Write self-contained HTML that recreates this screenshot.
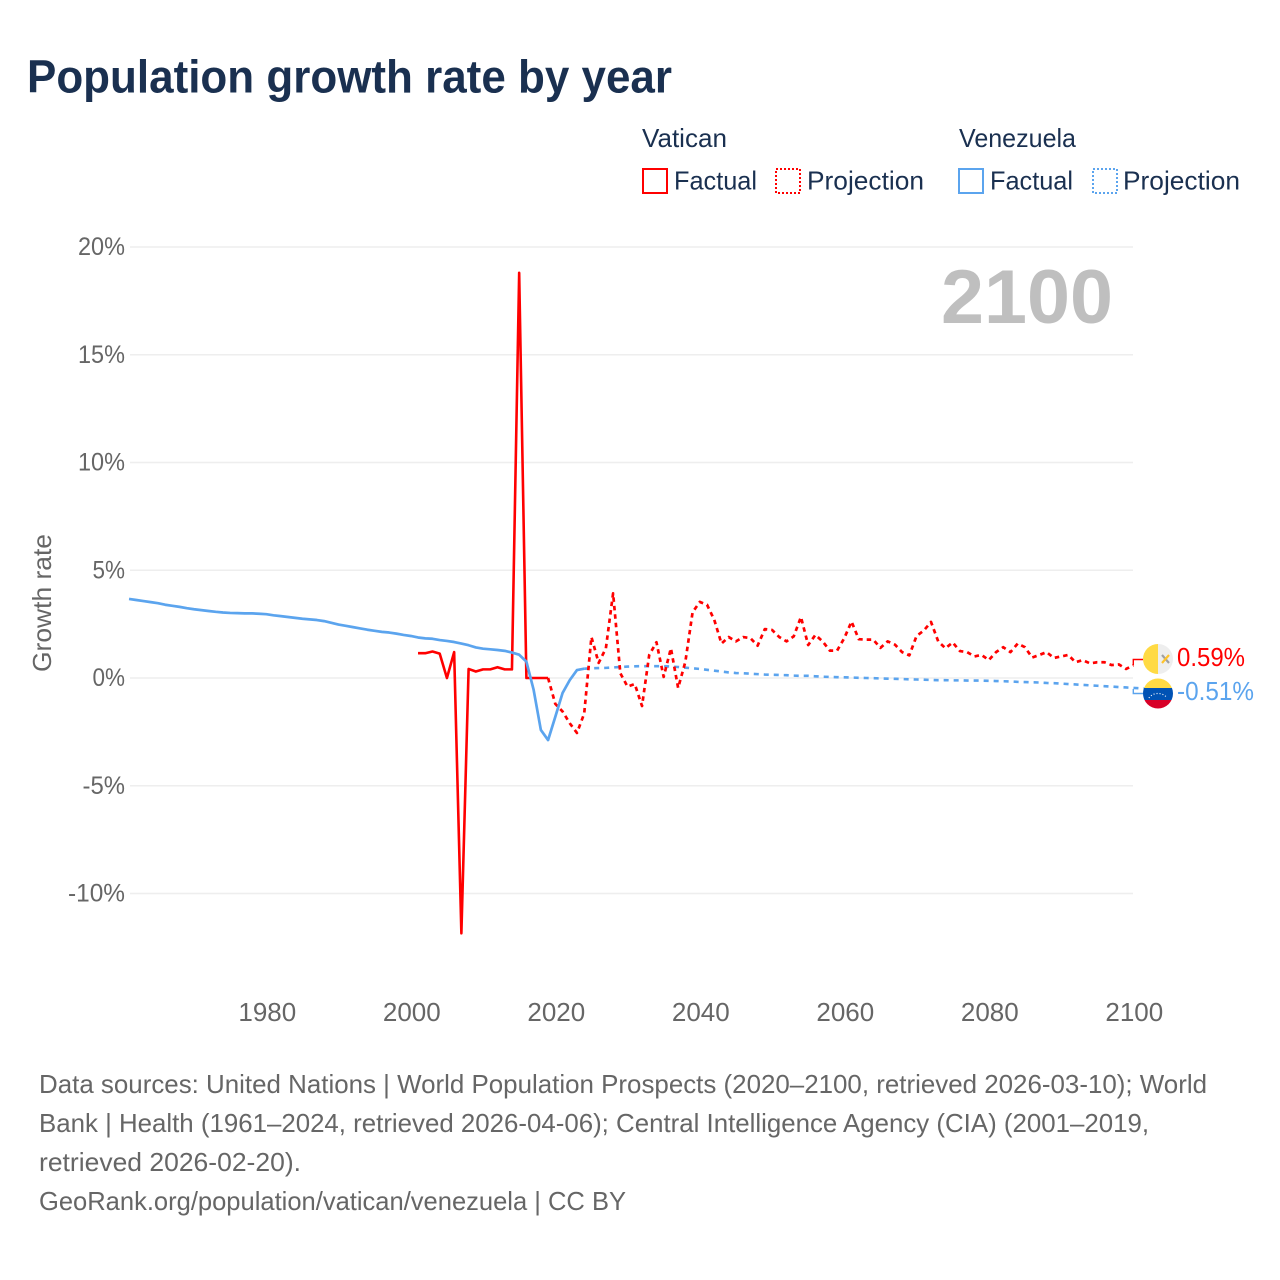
<!DOCTYPE html>
<html lang="en">
<head>
<meta charset="utf-8">
<title>Population growth rate by year</title>
<style>
html,body{margin:0;padding:0;background:#fff;width:1280px;height:1280px;overflow:hidden}
svg{display:block}
text{font-family:"Liberation Sans",sans-serif}
</style>
</head>
<body>
<svg id="chart" xmlns="http://www.w3.org/2000/svg" width="1280" height="1280" viewBox="0 0 1280 1280">
  <rect width="1280" height="1280" fill="#fff"/>
  <text x="27" y="92.5" font-size="46" font-weight="700" fill="#1a3050" textLength="645" lengthAdjust="spacingAndGlyphs">Population growth rate by year</text>

  <g font-size="26" fill="#1a3050">
    <text x="642" y="147" textLength="85" lengthAdjust="spacingAndGlyphs">Vatican</text>
    <rect x="643" y="169" width="24" height="24" fill="none" stroke="#f00" stroke-width="2"/>
    <text x="674" y="189.5" textLength="83" lengthAdjust="spacingAndGlyphs">Factual</text>
    <rect x="776" y="169" width="24" height="24" fill="none" stroke="#f00" stroke-width="2" stroke-dasharray="2 2"/>
    <text x="807" y="189.5" textLength="117" lengthAdjust="spacingAndGlyphs">Projection</text>
    <text x="959" y="147" textLength="117" lengthAdjust="spacingAndGlyphs">Venezuela</text>
    <rect x="959" y="169" width="24" height="24" fill="none" stroke="#5ba4ee" stroke-width="2"/>
    <text x="990" y="189.5" textLength="83" lengthAdjust="spacingAndGlyphs">Factual</text>
    <rect x="1093" y="169" width="24" height="24" fill="none" stroke="#5ba4ee" stroke-width="2" stroke-dasharray="2 2"/>
    <text x="1123" y="189.5" textLength="117" lengthAdjust="spacingAndGlyphs">Projection</text>
  </g>

  <g id="grid"></g>
  <g id="yticks" font-size="25" fill="#666"></g>
  <g id="xticks" font-size="26" fill="#666"></g>

  <text transform="translate(51,603) rotate(-90)" text-anchor="middle" font-size="26" fill="#666" textLength="138" lengthAdjust="spacingAndGlyphs">Growth rate</text>
  <text x="941" y="323" font-size="76" font-weight="700" fill="#bfbfbf" textLength="172" lengthAdjust="spacingAndGlyphs">2100</text>

  <g id="series"></g>

  <g>
    <clipPath id="vaClip"><circle cx="1158" cy="659" r="15"/></clipPath>
    <g clip-path="url(#vaClip)">
      <rect x="1143" y="644" width="15" height="30" fill="#ffda44"/>
      <rect x="1158" y="644" width="15" height="30" fill="#eeeeee"/>
      <path d="M1162 655l7 8" stroke="#a0a0a0" stroke-width="2.2"/>
      <path d="M1169 655l-7 8" stroke="#ffc32a" stroke-width="2.2"/>
    </g>
  </g>
  <g>
    <clipPath id="veClip"><circle cx="1158" cy="693.5" r="15"/></clipPath>
    <g clip-path="url(#veClip)">
      <rect x="1143" y="678" width="30" height="10" fill="#ffda44"/>
      <rect x="1143" y="688" width="30" height="12" fill="#0052b4"/>
      <rect x="1143" y="700" width="30" height="9" fill="#d80027"/>
      <path d="M1149 698a10 8 0 0 1 18 0" fill="none" stroke="#fff" stroke-width="1.2" stroke-dasharray="1 2"/>
    </g>
  </g>

  <text id="vaLabel" x="1177" y="666" font-size="26" fill="#f00" textLength="68" lengthAdjust="spacingAndGlyphs"></text>
  <text id="veLabel" x="1177" y="700" font-size="26" fill="#5ba4ee" textLength="77" lengthAdjust="spacingAndGlyphs"></text>

  <g font-size="26" fill="#666">
    <text x="39" y="1093" textLength="1168" lengthAdjust="spacingAndGlyphs">Data sources: United Nations | World Population Prospects (2020–2100, retrieved 2026-03-10); World</text>
    <text x="39" y="1132" textLength="1110" lengthAdjust="spacingAndGlyphs">Bank | Health (1961–2024, retrieved 2026-04-06); Central Intelligence Agency (CIA) (2001–2019,</text>
    <text x="39" y="1171" textLength="262" lengthAdjust="spacingAndGlyphs">retrieved 2026-02-20).</text>
    <text x="39" y="1210" textLength="587" lengthAdjust="spacingAndGlyphs">GeoRank.org/population/vatican/venezuela | CC BY</text>
  </g>
</svg>
<script>
const yTicks = [20, 15, 10, 5, 0, -5, -10];
const xTicks = [1980, 2000, 2020, 2040, 2060, 2080, 2100];

const vaticanFactualStart = 2001;
const vaticanFactual = [1.15,1.15,1.23,1.13,0,1.2,-11.85,0.42,0.3,0.4,0.4,0.5,0.4,0.4,18.8,0,0,0,0];

const vaticanProjectionStart = 2019;
const vaticanProjection = [0,-1.2,-1.55,-2.1,-2.55,-1.65,1.9,0.7,1.38,3.93,0.22,-0.4,-0.28,-1.3,1.07,1.66,0.05,1.38,-0.46,0.75,
  3.05,3.53,3.4,2.7,1.6,1.9,1.7,1.9,1.85,1.5,2.27,2.23,1.9,1.7,1.93,2.83,1.53,2,1.7,1.27,
  1.27,1.85,2.62,1.8,1.78,1.78,1.4,1.7,1.55,1.2,1.05,1.95,2.2,2.6,1.7,1.38,1.65,1.25,1.2,1,
  1.07,0.83,1.2,1.43,1.2,1.6,1.43,0.95,1.07,1.2,0.93,1,1.07,0.73,0.83,0.68,0.73,0.73,0.6,0.63,0.42,0.59];

const venezuelaFactualStart = 1961;
const venezuelaFactual = [3.67,3.62,3.57,3.52,3.47,3.4,3.35,3.3,3.24,3.19,3.15,3.11,3.07,3.04,3.02,3.01,3,3,2.98,2.96,
  2.91,2.87,2.83,2.79,2.75,2.72,2.69,2.64,2.56,2.48,2.42,2.36,2.3,2.24,2.19,2.14,2.11,2.06,2,1.95,
  1.88,1.84,1.82,1.76,1.72,1.67,1.6,1.52,1.42,1.36,1.33,1.3,1.26,1.18,1.08,0.76,-0.55,-2.41,-2.88,-1.8,-0.7,-0.1,0.37,0.43];

const venezuelaProjectionStart = 2024;
const venezuelaProjection = [0.43,0.45,0.46,0.47,0.49,0.51,0.53,0.54,0.55,0.55,0.55,0.55,0.53,0.51,0.48,0.45,0.42,0.38,0.34,0.3,0.26,0.23,
  0.22,0.2,0.18,0.16,0.15,0.14,0.13,0.11,0.1,0.1,0.08,0.06,0.05,0.04,0.03,0.02,0.01,0,-0.01,-0.02,-0.03,-0.04,-0.05,-0.06,-0.07,-0.08,
  -0.09,-0.1,-0.1,-0.11,-0.11,-0.12,-0.12,-0.12,-0.13,-0.14,-0.15,-0.16,-0.18,-0.19,-0.2,-0.21,-0.23,-0.24,-0.26,-0.28,-0.3,
  -0.32,-0.34,-0.36,-0.38,-0.4,-0.42,-0.44,-0.46,-0.48,-0.5,-0.51];

const svgNS = 'http://www.w3.org/2000/svg';
const xOf = year => 266.3 + (year - 1980) * 7.225;
const yOf = val => 678 - val * 21.55;
const fmtVal = v => v.toFixed(2) + '%';

function make(tag, attrs, parent) {
  const el = document.createElementNS(svgNS, tag);
  for (const k in attrs) el.setAttribute(k, attrs[k]);
  parent.appendChild(el);
  return el;
}

const grid = document.getElementById('grid');
const yt = document.getElementById('yticks');
yTicks.forEach(v => {
  const line = make('line', {x1: 130, x2: 1133, y1: yOf(v), y2: yOf(v), stroke: '#eeeeee', 'stroke-width': 1.5}, grid);
  
  
  const label = v + '%';
  const digits = String(Math.abs(v)).length;
  const w = digits * 14.5 + 18 + (v < 0 ? 10 : 0);
  const t = make('text', {x: 125, y: yOf(v) + 8, 'text-anchor': 'end', textLength: w, lengthAdjust: 'spacingAndGlyphs'}, yt);
  
  
  t.textContent = label;
});

const xt = document.getElementById('xticks');
xTicks.forEach(y => {
  const t = make('text', {x: xOf(y) + 1, y: 1021, 'text-anchor': 'middle'}, xt);
  
  
  t.textContent = y;
});

const series = document.getElementById('series');
function points(start, values) {
  return values.map((v, i) => xOf(start + i).toFixed(2) + ',' + yOf(v).toFixed(2)).join(' ');
}
const common = {fill: 'none', 'stroke-linejoin': 'round'};

const lineVeP = make('polyline', Object.assign({points: points(venezuelaProjectionStart, venezuelaProjection), stroke: '#5ba4ee', 'stroke-width': 2.6, 'stroke-dasharray': '5 5'}, common), series);



const lineVaP = make('polyline', Object.assign({points: points(vaticanProjectionStart, vaticanProjection), stroke: '#f00', 'stroke-width': 2.7, 'stroke-dasharray': '4.5 4'}, common), series);



const lineVaF = make('polyline', Object.assign({points: points(vaticanFactualStart, vaticanFactual), stroke: '#f00', 'stroke-width': 2.6}, common), series);



const lineVeF = make('polyline', Object.assign({points: points(venezuelaFactualStart, venezuelaFactual), stroke: '#5ba4ee', 'stroke-width': 2.7}, common), series);



const vaLast = vaticanProjection[vaticanProjection.length - 1];
const veLast = venezuelaProjection[venezuelaProjection.length - 1];
const endX = xOf(2100);

const leadVa = make('polyline', {points: endX + ',' + yOf(vaLast) + ' ' + endX + ',659.5 1143,659.5', fill: 'none', stroke: '#f00', 'stroke-width': 1.4}, series);



const leadVe = make('polyline', {points: endX + ',' + yOf(veLast) + ' ' + endX + ',693.5 1143,693.5', fill: 'none', stroke: '#5ba4ee', 'stroke-width': 1.4}, series);



document.getElementById('vaLabel').textContent = fmtVal(vaLast);
document.getElementById('veLabel').textContent = fmtVal(veLast);
</script>
</body>
</html>
